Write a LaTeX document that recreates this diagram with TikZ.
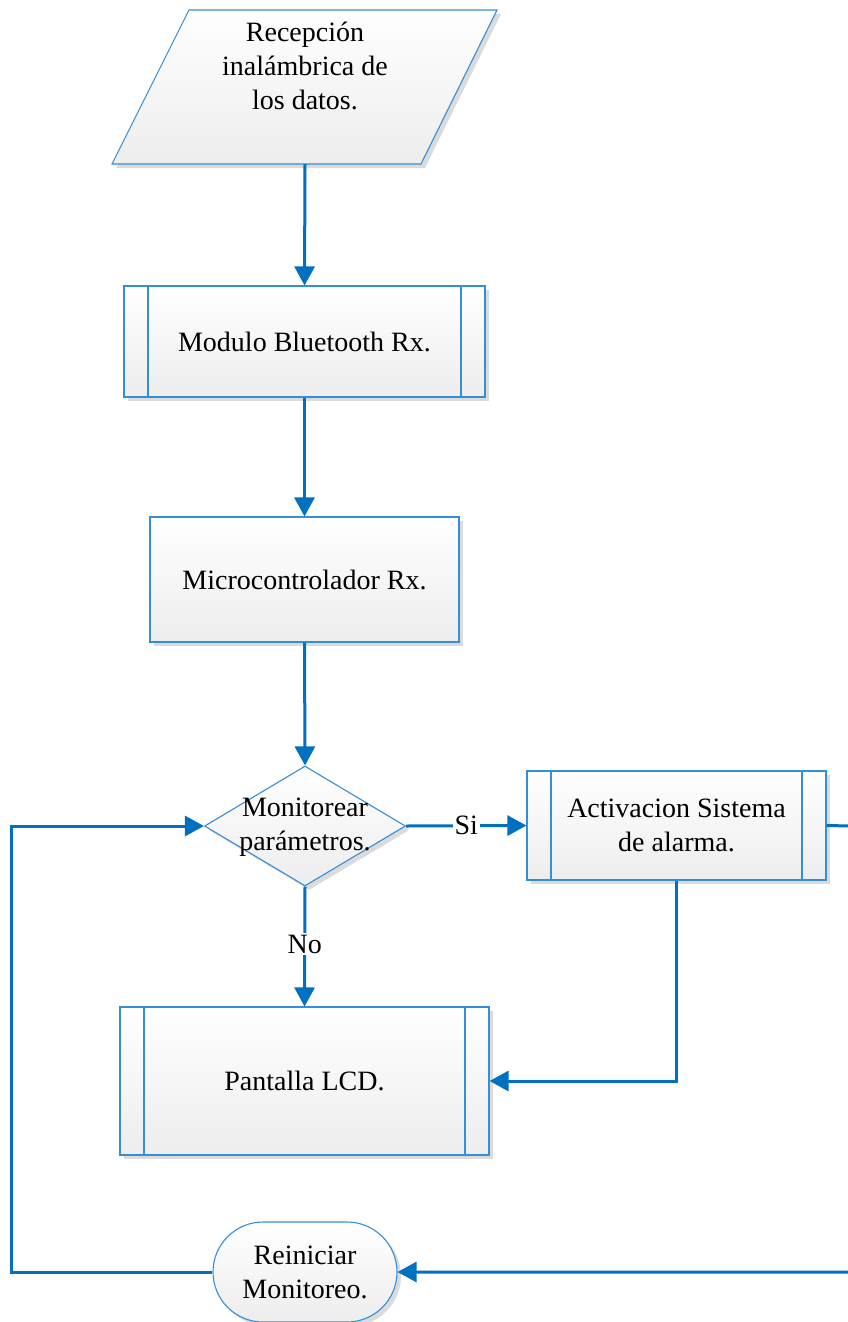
\documentclass[tikz,border=0pt]{standalone}
\usepackage{fontspec}
\setmainfont{Liberation Serif}
\usetikzlibrary{arrows.meta,shapes.geometric,shadows,calc}

\definecolor{linkblue}{RGB}{0,112,192}
\definecolor{edgeblue}{RGB}{52,142,218}

\tikzset{
  txt/.style={font=\fontsize{28}{34}\selectfont, align=center, text=black},
  shapefill/.style={top color=white, bottom color=black!7, draw=edgeblue, line width=1.1pt},
  shade3d/.style={drop shadow={shadow xshift=4pt, shadow yshift=-4pt, fill=black!14, opacity=1}},
  procbox/.style={shapefill, shade3d, rectangle, inner sep=0pt, txt},
  subproc/.style={procbox,
    path picture={
      \draw[edgeblue, line width=1.1pt]
        ([xshift=24pt]path picture bounding box.north west) -- ([xshift=24pt]path picture bounding box.south west)
        ([xshift=-24pt]path picture bounding box.north east) -- ([xshift=-24pt]path picture bounding box.south east);
    }},
  decision/.style={shapefill, shade3d, diamond, inner sep=0pt},
  terminal/.style={procbox, rounded corners=50pt},
  link/.style={draw=linkblue, line width=3pt, -{Triangle[length=19pt,width=20pt]}},
  tag/.style={txt, fill=white, inner sep=2pt}
}

\begin{document}
\begin{tikzpicture}[x=1pt,y=-1pt]
\useasboundingbox (0,0) rectangle (847,1322);

% data input: parallelogram drawn by hand
\fill[black!14] (193,14) -- (501,14) -- (425,168) -- (116,168) -- cycle;
\shade[top color=white, bottom color=black!7] (189,10) -- (497,10) -- (421,164) -- (112,164) -- cycle;
\draw[edgeblue, line width=1.1pt] (189,10) -- (497,10) -- (421,164) -- (112,164) -- cycle;
\node[minimum width=200pt, minimum height=154pt, inner sep=0pt] (recv) at (305,87) {};
\node[txt] (recvtxt) at (305,66) {Recepción\\inalámbrica de\\los datos.};

% process steps
\node[subproc, minimum width=361pt, minimum height=111pt] (bt) at (304.5,341.5) {Modulo Bluetooth Rx.};
\node[procbox, minimum width=309pt, minimum height=125pt] (mcu) at (304.5,579.5) {Microcontrolador Rx.};
\node[decision, minimum width=201pt, minimum height=120pt] (dec) at (305,826) {};
\node[txt] (dectxt) at (305,827) {Monitorear\\parámetros.};
\node[subproc, minimum width=299pt, minimum height=109pt] (alarm) at (676.5,825.5) {Activacion Sistema\\de alarma.};
\node[subproc, minimum width=369pt, minimum height=148pt] (lcd) at (304.5,1081) {Pantalla LCD.};
\node[terminal, minimum width=184pt, minimum height=100pt] (rst) at (305,1272) {Reiniciar\\Monitoreo.};

% loop corners
\coordinate (rtop) at (851,826);
\coordinate (rbot) at (851,1272);
\coordinate (lbot) at (11,1272);
\coordinate (ltop) at (11,826);

% connectors
\draw[link] (recv.south) -- (bt.north);
\draw[link] (bt.south) -- (mcu.north);
\draw[link] (mcu.south) -- (dec.north);
\draw[link] (dec.east) -- node[tag] (si) {Si} (alarm.west);
\draw[link] (dec.south) -- node[tag, pos=0.48] (no) {No} (lcd.north);
\draw[link] (alarm.south) |- (lcd.east);
\draw[link] (alarm.east) -- (rtop) -- (rbot) -- (rst.east);
\draw[link] (rst.west) -- (lbot) -- (ltop) -- (dec.west);
\end{tikzpicture}
\end{document}
